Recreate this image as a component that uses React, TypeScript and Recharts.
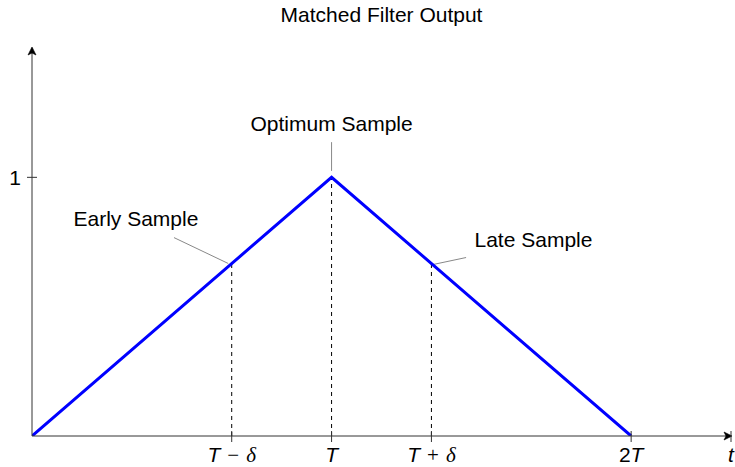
import React from 'react';
import { LineChart, Line, XAxis, YAxis, ReferenceLine, ReferenceDot } from 'recharts';

// matched filter output: triangle from 0 to 2T, peak at T
const times = [0, 1, 2];
const outputs = [0, 1, 0];

// sample instants T - δ, T, T + δ (δ = T/3) and the output there
const sampleTimes = [2 / 3, 1, 4 / 3];
const sampleValues = [2 / 3, 1, 2 / 3];

const xTicks = [2 / 3, 1, 4 / 3, 2, 7 / 3];
const xTickLabels = ['T−δ', 'T', 'T+δ', '2T', 't'];
const yTicks = [1];
const yTickLabels = ['1'];

const annotationTexts = ['Early Sample', 'Optimum Sample', 'Late Sample'];

const data = times.map((t, i) => ({ t, y: outputs[i] }));

// annotation layout, in data units
const labelPos = [
  { x: 0.347, y: 0.81 },
  { x: 1.0, y: 1.178 },
  { x: 1.674, y: 0.729 },
];
const leaderFrom = [
  { x: 0.474, y: 0.767 },
  { x: 1.0, y: 1.136 },
  { x: 1.449, y: 0.69 },
];
const leaderTo = [
  { x: 0.655, y: 0.667 },
  { x: 1.0, y: 1.025 },
  { x: 1.339, y: 0.663 },
];

const SANS = '"Liberation Sans", Arial, Helvetica, sans-serif';
const SERIF = '"Liberation Serif", "DejaVu Serif", serif';
const FS = 21;

const TickText = ({ label, x, y }: { label: string; x: number; y: number }) => {
  const parts: React.ReactNode[] = [];
  if (label === 'T−δ' || label === 'T+δ') {
    parts.push(<tspan key="a" fontStyle="italic">T</tspan>);
    parts.push(
      <tspan key="b" fontFamily={SERIF} dx={7}>
        {label[1] === '+' ? '+' : '−'}
      </tspan>
    );
    parts.push(
      <tspan key="c" fontFamily={SERIF} fontStyle="italic" dx={7}>
        δ
      </tspan>
    );
  } else if (label === '2T') {
    parts.push(<tspan key="a">2</tspan>);
    parts.push(<tspan key="b" fontStyle="italic">T</tspan>);
  } else {
    parts.push(<tspan key="a" fontStyle="italic">{label}</tspan>);
  }
  return (
    <text x={x} y={y} textAnchor="middle" fontFamily={SANS} fontSize={FS} fill="#000">
      {parts}
    </text>
  );
};

const XTick = (props: any) => {
  const { x, y, payload } = props;
  const i = xTicks.findIndex((v) => Math.abs(v - payload.value) < 1e-6);
  return (
    <g>
      <line x1={x} x2={x} y1={y - 5} y2={y + 6} stroke="#333" strokeWidth={1} />
      <TickText label={xTickLabels[i] ?? ''} x={x} y={y + 26} />
    </g>
  );
};

const YTick = (props: any) => {
  const { x, y, payload } = props;
  const i = yTicks.findIndex((v) => Math.abs(v - payload.value) < 1e-6);
  return (
    <g>
      <line x1={x - 5} x2={x + 5} y1={y} y2={y} stroke="#333" strokeWidth={1} />
      <text x={x - 11} y={y + 7.5} textAnchor="end" fontFamily={SANS} fontSize={FS} fill="#000">
        {yTickLabels[i]}
      </text>
    </g>
  );
};

const ArrowRight = (props: any) => {
  const { cx, cy } = props;
  return (
    <path
      d={`M ${cx + 1} ${cy} L ${cx - 7} ${cy - 4} L ${cx - 5} ${cy} L ${cx - 7} ${cy + 4} Z`}
      fill="#000"
      stroke="#000"
      strokeWidth={0.6}
      strokeLinejoin="round"
    />
  );
};

const ArrowUp = (props: any) => {
  const { cx, cy } = props;
  return (
    <path
      d={`M ${cx} ${cy - 1} L ${cx - 4} ${cy + 7} L ${cx} ${cy + 5} L ${cx + 4} ${cy + 7} Z`}
      fill="#000"
      stroke="#000"
      strokeWidth={0.6}
      strokeLinejoin="round"
    />
  );
};

const makeLabel = (text: string, anchor = 'middle') => (props: any) => (
  <text x={props.cx} y={props.cy} textAnchor={anchor} fontFamily={SANS} fontSize={FS} fill="#000">
    {text}
  </text>
);

export default function App() {
  return (
    <div style={{ position: 'absolute', left: 0, top: 0, width: 735, height: 467, background: '#fff' }}>
      <LineChart width={735} height={467} data={data} margin={{ top: 48, right: 4, bottom: 0, left: 0 }}>
        <XAxis
          dataKey="t"
          type="number"
          domain={[0, 7 / 3]}
          ticks={xTicks}
          allowDataOverflow
          height={31}
          tickSize={0}
          tickMargin={0}
          tickLine={false}
          axisLine={{ stroke: '#333', strokeWidth: 1 }}
          tick={(p: any) => <XTick {...p} />}
          interval={0}
        />
        <YAxis
          type="number"
          domain={[0, 1.5]}
          ticks={yTicks}
          allowDataOverflow
          width={32}
          tickSize={0}
          tickMargin={0}
          tickLine={false}
          axisLine={{ stroke: '#333', strokeWidth: 1 }}
          tick={(p: any) => <YTick {...p} />}
          interval={0}
        />
        {sampleTimes.map((t, i) => (
          <ReferenceLine
            key={`s${i}`}
            segment={[
              { x: t, y: 0 },
              { x: t, y: sampleValues[i] },
            ]}
            stroke="#000"
            strokeWidth={1}
            strokeDasharray="4 4"
          />
        ))}
        {annotationTexts.map((_, i) => (
          <ReferenceLine
            key={`l${i}`}
            segment={[leaderFrom[i], leaderTo[i]]}
            stroke="#888"
            strokeWidth={1}
          />
        ))}
        <Line
          type="linear"
          dataKey="y"
          stroke="#0000ff"
          strokeWidth={3}
          dot={false}
          activeDot={false}
          isAnimationActive={false}
        />
        {annotationTexts.map((text, i) => (
          <ReferenceDot
            key={`a${i}`}
            x={labelPos[i].x}
            y={labelPos[i].y}
            r={0}
            ifOverflow="visible"
            shape={makeLabel(text)}
          />
        ))}
        <ReferenceDot
          x={7 / 6}
          y={1.6}
          r={0}
          ifOverflow="visible"
          shape={makeLabel('Matched Filter Output')}
        />
        <ReferenceDot x={7 / 3} y={0} r={0} ifOverflow="visible" shape={(p: any) => <ArrowRight {...p} />} />
        <ReferenceDot x={0} y={1.5} r={0} ifOverflow="visible" shape={(p: any) => <ArrowUp {...p} />} />
      </LineChart>
    </div>
  );
}
